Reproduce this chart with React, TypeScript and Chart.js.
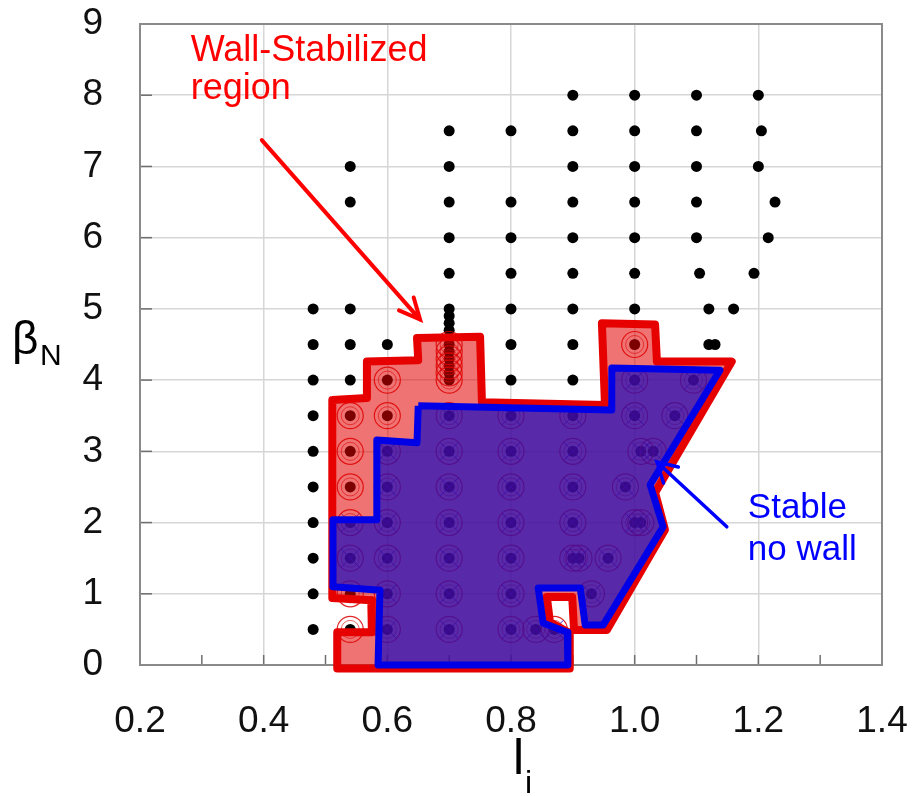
import { useEffect, useRef } from "react";
import { Chart, registerables } from "chart.js";

Chart.register(...registerables);

// ---- axis ticks ----
const liMin = 0.2;
const liMax = 1.4;
const betaMin = 0;
const betaMax = 9;
const liMinorTicks = [0.3, 0.4, 0.5, 0.6, 0.7, 0.8, 0.9, 1.0, 1.1, 1.2, 1.3];
const betaTicks = [1, 2, 3, 4, 5, 6, 7, 8];

// ---- scanned equilibria (li, betaN): unstable even with wall (black dots only) ----
const unstablePoints: [number, number][] = [
  [0.48, 0.5], [0.48, 1], [0.48, 1.5], [0.48, 2], [0.48, 2.5], [0.48, 3], [0.48, 3.5], [0.48, 4], [0.48, 4.5], [0.48, 5],
  [0.54, 4], [0.54, 4.5], [0.54, 5], [0.54, 6.5], [0.54, 7],
  [0.6, 4.5],
  [0.7, 4.6], [0.7, 4.7], [0.7, 4.8], [0.7, 4.9], [0.7, 5], [0.7, 5.5], [0.7, 6], [0.7, 6.5], [0.7, 7], [0.7, 7.5],
  [0.8, 4], [0.8, 4.5], [0.8, 5], [0.8, 5.5], [0.8, 6], [0.8, 6.5], [0.8, 7.5],
  [0.9, 4], [0.9, 4.5], [0.9, 5], [0.9, 5.5], [0.9, 6], [0.9, 6.5], [0.9, 7], [0.9, 7.5], [0.9, 8],
  [1.0, 5], [1.0, 5.5], [1.0, 6], [1.0, 6.5], [1.0, 7], [1.0, 7.5], [1.0, 8],
  [1.1, 6], [1.1, 6.5], [1.1, 7], [1.1, 7.5], [1.1, 8], [1.105, 5.5], [1.12, 5], [1.16, 5], [1.12, 4.5], [1.13, 4.5],
  [1.2, 7], [1.2, 8], [1.205, 7.5], [1.227, 6.5], [1.216, 6], [1.193, 5.5],
];

// ---- stable only with wall (circled) ----
const wallStablePoints: [number, number][] = [
  [0.54, 0.5], [0.54, 1], [0.54, 2.5], [0.54, 3], [0.54, 3.5],
  [0.6, 3.5], [0.6, 4],
  [0.7, 4.0], [0.7, 4.1], [0.7, 4.2], [0.7, 4.3], [0.7, 4.4], [0.7, 4.5],
  [1.0, 4.5],
];

// ---- stable without wall (circled and crossed) ----
const noWallStablePoints: [number, number][] = [
  [0.54, 1.5], [0.54, 2],
  [0.6, 0.5], [0.6, 1], [0.6, 1.5], [0.6, 2], [0.6, 2.5], [0.6, 3],
  [0.7, 0.5], [0.7, 1], [0.7, 1.5], [0.7, 2], [0.7, 2.5], [0.7, 3], [0.7, 3.5],
  [0.8, 0.5], [0.8, 1], [0.8, 1.5], [0.8, 2], [0.8, 2.5], [0.8, 3], [0.8, 3.5],
  [0.84, 0.5], [0.87, 0.5],
  [0.9, 1.5], [0.9, 2], [0.9, 2.5], [0.9, 3], [0.9, 3.5], [0.91, 1.5],
  [0.93, 1.0], [0.957, 1.5],
  [0.985, 2.5], [1.0, 2.0], [1.01, 2.0], [1.01, 3.0], [1.03, 3.0],
  [1.0, 3.5], [1.0, 4.0], [1.065, 3.5], [1.095, 4.0],
];

// ---- region outlines ----
const wallRegionLi = [
  0.511, 0.511, 0.574, 0.575, 0.519, 0.519, 0.895, 0.895, 0.863, 0.858, 0.899, 0.902, 0.955,
  1.049, 1.033, 1.157, 1.036, 1.033, 0.947, 0.952, 0.753, 0.75, 0.648, 0.65, 0.567, 0.567, 0.511,
];
const wallRegionBeta = [
  3.72, 0.94, 0.91, 0.46, 0.46, -0.05, -0.05, 0.45, 0.6, 0.955, 0.955, 0.49, 0.49,
  1.9, 2.42, 4.26, 4.26, 4.78, 4.8, 3.65, 3.69, 4.61, 4.59, 4.28, 4.26, 3.75, 3.72,
];
const noWallRegionLi = [
  0.65, 0.963, 0.963, 1.138, 1.025, 1.046, 0.949, 0.92, 0.912, 0.844, 0.852, 0.891, 0.892,
  0.585, 0.588, 0.512, 0.512, 0.583, 0.583, 0.648, 0.65,
];
const noWallRegionBeta = [
  3.64, 3.58, 4.17, 4.14, 2.53, 1.94, 0.56, 0.56, 1.08, 1.08, 0.59, 0.46, 0,
  0, 1.05, 1.1, 2.04, 2.04, 3.16, 3.12, 3.64,
];

// ---- annotations (data coordinates) ----
const wallLabelLines = ["Wall-Stabilized", "region"];
const wallLabelPos = { li: 0.282, beta: [8.48, 7.94] };
const wallArrow = { from: [0.397, 7.37], to: [0.653, 4.85] };
const noWallLabelLines = ["Stable", "no wall"];
const noWallLabelPos = { li: 1.183, beta: [2.06, 1.47] };
const noWallArrow = { from: [1.149, 1.94], to: [1.036, 2.85] };

const FONT = '"Liberation Sans", Arial, sans-serif';

const toXY = (pts: [number, number][]) => pts.map(([x, y]) => ({ x, y }));
const zipXY = (xs: number[], ys: number[]) => xs.map((x, i) => ({ x, y: ys[i] }));

const framePlugin = {
  id: "frameTicks",
  beforeDatasetsDraw(chart: any) {
    const { ctx, chartArea: a, scales } = chart;
    ctx.save();
    ctx.strokeStyle = "#6f6f6f";
    ctx.lineWidth = 1.5;
    for (const v of liMinorTicks) {
      const px = scales.x.getPixelForValue(v);
      ctx.beginPath();
      ctx.moveTo(px, a.bottom);
      ctx.lineTo(px, a.bottom - 10);
      ctx.stroke();
    }
    for (const v of betaTicks) {
      const py = scales.y.getPixelForValue(v);
      ctx.beginPath();
      ctx.moveTo(a.left, py);
      ctx.lineTo(a.left + 12, py);
      ctx.stroke();
    }
    ctx.strokeStyle = "#8a8a8a";
    ctx.lineWidth = 2;
    ctx.strokeRect(a.left, a.top, a.right - a.left, a.bottom - a.top);
    ctx.restore();
  },
};

function drawArrow(ctx: CanvasRenderingContext2D, x0: number, y0: number, x1: number, y1: number, color: string, width: number, armLen: number, armAngle: number) {
  ctx.save();
  ctx.strokeStyle = color;
  ctx.lineWidth = width;
  ctx.lineCap = "round";
  ctx.beginPath();
  ctx.moveTo(x0, y0);
  ctx.lineTo(x1, y1);
  const back = Math.atan2(y0 - y1, x0 - x1);
  ctx.moveTo(x1 + armLen * Math.cos(back + armAngle), y1 + armLen * Math.sin(back + armAngle));
  ctx.lineTo(x1, y1);
  ctx.lineTo(x1 + armLen * Math.cos(back - armAngle), y1 + armLen * Math.sin(back - armAngle));
  ctx.stroke();
  ctx.restore();
}

const annotationPlugin = {
  id: "annotations",
  afterDraw(chart: any) {
    const { ctx, scales } = chart;
    const X = (v: number) => scales.x.getPixelForValue(v);
    const Y = (v: number) => scales.y.getPixelForValue(v);
    ctx.save();
    ctx.textAlign = "left";
    ctx.textBaseline = "alphabetic";
    ctx.fillStyle = "#ff0000";
    ctx.font = `36px ${FONT}`;
    wallLabelLines.forEach((t, i) => ctx.fillText(t, X(wallLabelPos.li), Y(wallLabelPos.beta[i])));
    drawArrow(ctx, X(wallArrow.from[0]), Y(wallArrow.from[1]), X(wallArrow.to[0]), Y(wallArrow.to[1]), "#ff0000", 4, 23, 0.44);
    ctx.fillStyle = "#0000ff";
    ctx.font = `35px ${FONT}`;
    noWallLabelLines.forEach((t, i) => ctx.fillText(t, X(noWallLabelPos.li), Y(noWallLabelPos.beta[i])));
    drawArrow(ctx, X(noWallArrow.from[0]), Y(noWallArrow.from[1]), X(noWallArrow.to[0]), Y(noWallArrow.to[1]), "#0000ff", 3.5, 22, 0.52);

    // axis titles
    ctx.fillStyle = "#000";
    ctx.font = `46px ${FONT}`;
    ctx.fillText("\u03B2", 12, 354);
    ctx.font = `30px ${FONT}`;
    ctx.fillText("N", 40, 365);
    ctx.font = `50px ${FONT}`;
    ctx.fillText("l", 513, 774);
    ctx.font = `32px ${FONT}`;
    ctx.fillText("i", 525, 793);
    ctx.restore();
  },
};

export default function App() {
  const ref = useRef<HTMLCanvasElement | null>(null);
  useEffect(() => {
    document.body.style.margin = "0";
    const canvas = ref.current!;
    const chart = new Chart(canvas, {
      type: "scatter",
      data: {
        datasets: [
          {
            label: "no wall",
            data: zipXY(noWallRegionLi, noWallRegionBeta),
            showLine: true,
            fill: "shape",
            backgroundColor: "rgba(30,14,190,0.72)",
            borderColor: "#0000e6",
            borderWidth: 7,
            borderJoinStyle: "round",
            pointRadius: 0,
            clip: false,
            order: 0,
          } as any,
          {
            label: "wall",
            data: zipXY(wallRegionLi, wallRegionBeta),
            showLine: true,
            fill: "shape",
            backgroundColor: "rgba(225,0,0,0.55)",
            borderColor: "#e60000",
            borderWidth: 8,
            borderJoinStyle: "round",
            pointRadius: 0,
            clip: false,
            order: 1,
          } as any,
          {
            label: "crosses",
            data: toXY(noWallStablePoints),
            pointStyle: "crossRot",
            pointRadius: 13,
            borderColor: "rgba(40,30,230,0.9)",
            borderWidth: 1,
            backgroundColor: "transparent",
            order: 2,
          },
          {
            label: "rings outer",
            data: toXY([...wallStablePoints, ...noWallStablePoints]),
            pointStyle: "circle",
            pointRadius: 13,
            borderColor: "rgba(220,0,0,0.85)",
            borderWidth: 1.2,
            backgroundColor: "transparent",
            order: 3,
          },
          {
            label: "rings inner",
            data: toXY([...wallStablePoints, ...noWallStablePoints]),
            pointStyle: "circle",
            pointRadius: 9,
            borderColor: "rgba(220,0,0,0.6)",
            borderWidth: 1,
            backgroundColor: "transparent",
            order: 4,
          },
          {
            label: "scan",
            data: toXY([...unstablePoints, ...wallStablePoints, ...noWallStablePoints]),
            pointStyle: "circle",
            pointRadius: 5.5,
            borderWidth: 0,
            backgroundColor: "#000",
            order: 5,
          },
        ],
      },
      options: {
        responsive: false,
        animation: false,
        events: [],
        layout: { autoPadding: false, padding: { top: 24, right: 30, left: 0, bottom: 0 } },
        plugins: { legend: { display: false }, tooltip: { enabled: false } },
        scales: {
          x: {
            type: "linear",
            min: liMin,
            max: liMax,
            afterFit: (s: any) => { s.height = 131; s.paddingLeft = 0; s.paddingRight = 0; },
            border: { display: false },
            grid: { color: "#d6d6d6", lineWidth: 1.5, drawTicks: false },
            ticks: {
              stepSize: 0.2,
              padding: 35,
              color: "#111",
              font: { family: FONT, size: 37 },
              callback: (v: any) => Number(v).toFixed(1),
              maxRotation: 0,
            },
          },
          y: {
            type: "linear",
            min: betaMin,
            max: betaMax,
            afterFit: (s: any) => { s.width = 140; s.paddingTop = 0; s.paddingBottom = 0; },
            border: { display: false },
            grid: { color: "#d6d6d6", lineWidth: 1.5, drawTicks: false },
            ticks: {
              stepSize: 1,
              padding: 37,
              color: "#111",
              font: { family: FONT, size: 37 },
            },
          },
        },
      },
      plugins: [framePlugin, annotationPlugin],
    });
    return () => chart.destroy();
  }, []);
  return <canvas ref={ref} width={912} height={796} style={{ display: "block" }} />;
}
